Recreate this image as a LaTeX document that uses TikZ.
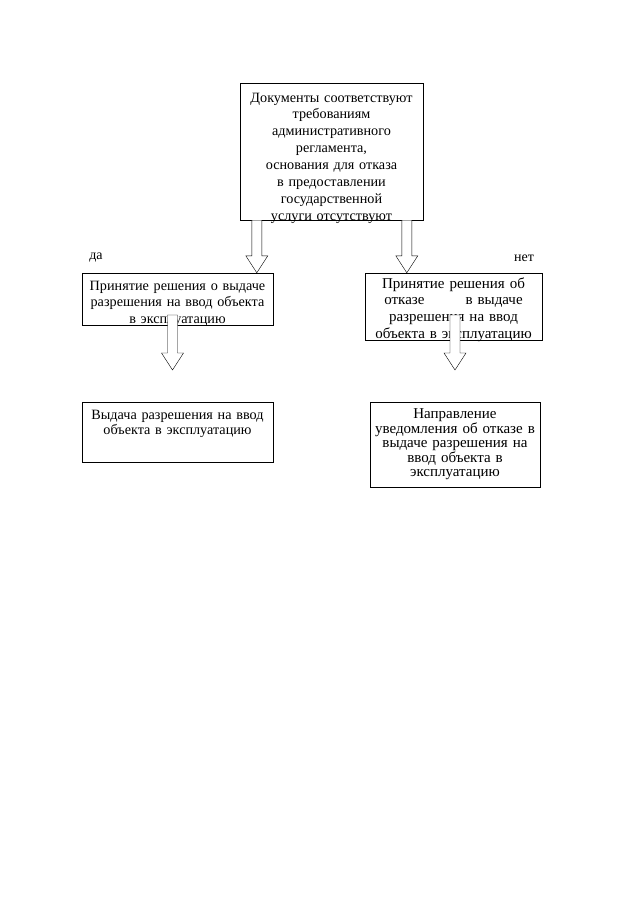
\documentclass[tikz,border=0pt]{standalone}
\usepackage{fontspec}
\setmainfont{Liberation Serif}
\usetikzlibrary{calc}

% hollow block arrow from a point down to a point
\newcommand{\blockarrow}[2]{%
  \draw[blockarr] let \p1=(#1), \p2=(#2) in
    (\x1-5pt,\y1) -- (\x1-5pt,\y2+17pt) -- (\x1-11pt,\y2+17pt) -- (\x1,\y2)
    -- (\x1+11pt,\y2+17pt) -- (\x1+5pt,\y2+17pt) -- (\x1+5pt,\y1) -- cycle;}

\begin{document}
\begin{tikzpicture}[x=1pt, y=-1pt,
    box/.style={draw, thin, fill=white, align=center, inner xsep=3pt, inner ysep=0pt,
      font=\fontsize{14.2}{16.6}\selectfont},
    blockarr/.style={draw, thin, fill=white, line join=miter},
    lbl/.style={font=\fontsize{14}{16}\selectfont, inner sep=0pt}]
    \useasboundingbox (0,0) rectangle (639,905);

    % Top box
    \node[box, text width=177pt, minimum width=183pt, minimum height=137pt,
      text height=16pt, text depth=115pt, font=\fontsize{14.2}{16.9}\selectfont] (docs) at (331.5,151.5)
      {Документы соответствуют\\ требованиям\\ административного\\ регламента,\\ основания для отказа\\
       в предоставлении\\ государственной\\ услуги отсутствуют};

    % Decisions
    \node[box, text width=185pt, minimum width=191pt, minimum height=52pt,
      text height=14pt, text depth=32pt] (grant) at (177.5,299)
      {Принятие решения о выдаче\\ разрешения на ввод объекта\\ в эксплуатацию};
    \node[box, text width=171pt, minimum width=177pt, minimum height=67pt,
      text height=13pt, text depth=50pt, font=\fontsize{15}{16.8}\selectfont] (refuse) at (453.5,306.5)
      {Принятие решения об\\ отказе\hspace*{36pt} в выдаче\\ разрешения на ввод\\ объекта в эксплуатацию};

    % Results
    \node[box, text width=185pt, minimum width=191pt, minimum height=60pt, text depth=34pt,
      font=\fontsize{14.2}{15}\selectfont] (issue) at (177.5,432)
      {Выдача разрешения на ввод\\ объекта в эксплуатацию};
    \node[box, text width=164pt, minimum width=170pt, minimum height=85pt,
      font=\fontsize{15}{14.6}\selectfont] (notify) at (455,444.5)
      {Направление\\ уведомления об отказе в\\ выдаче разрешения на\\ ввод объекта в\\ эксплуатацию};

    % Labels
    \node[lbl] (yes) at (96,258) {да};
    \node[lbl] (no) at (524,258) {нет};

    % Arrows
    \coordinate (docsL) at ($(docs.south west)+(17,0)$);
    \coordinate (docsR) at ($(docs.south west)+(167,0)$);
    \coordinate (grantA) at (172.5,315);
    \coordinate (refuseA) at (455,315);
    \blockarrow{docsL}{grant.north -| docsL}
    \blockarrow{docsR}{refuse.north -| docsR}
    \blockarrow{grantA}{370,370}
    \blockarrow{refuseA}{370,370}
\end{tikzpicture}
\end{document}
